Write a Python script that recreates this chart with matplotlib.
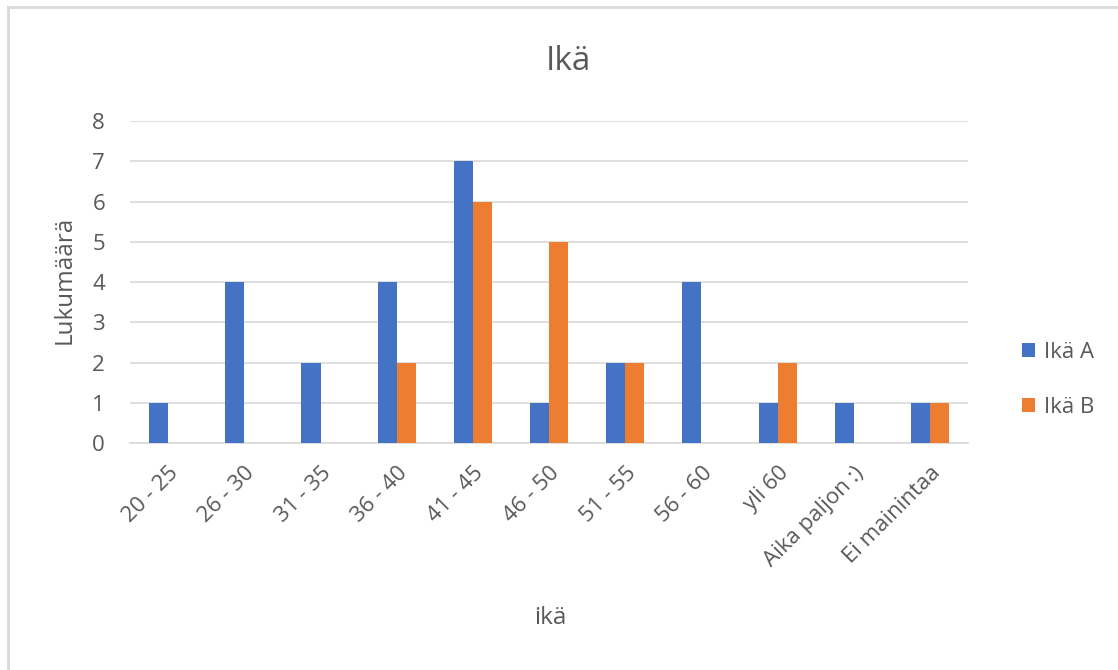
import numpy as np
import matplotlib
matplotlib.use('Agg')
import matplotlib.pyplot as plt
from matplotlib.lines import Line2D

plt.rcParams['font.family'] = ['Open Sans', 'DejaVu Sans']

categories = ['20 - 25', '26 - 30', '31 - 35', '36 - 40', '41 - 45', '46 - 50',
              '51 - 55', '56 - 60', 'yli 60', 'Aika paljon :)', 'Ei mainintaa']
ika_a = [1, 4, 2, 4, 7, 1, 2, 4, 1, 1, 1]
ika_b = [0, 0, 0, 2, 6, 5, 2, 0, 2, 0, 1]
series_names = ['Ikä A', 'Ikä B']

blue = '#4472C4'
orange = '#ED7D31'
grey = '#595959'

fig = plt.figure(figsize=(11.18, 6.70), dpi=100)
ax = fig.add_axes([0.1163, 0.3388, 0.7497, 0.4806])

x = np.arange(len(categories))
w = 0.25
ax.bar(x - w/2, ika_a, w, color=blue, label=series_names[0], zorder=3)
ax.bar(x + w/2, ika_b, w, color=orange, label=series_names[1], zorder=3)

ax.set_xlim(-0.5, len(categories) - 0.5)
ax.set_ylim(0, 8)
ax.set_yticks(range(0, 9))
ax.yaxis.grid(True, color='#D9D9D9', linewidth=1.2, zorder=0)
ax.set_axisbelow(True)
for s in ['top', 'right', 'left']:
    ax.spines[s].set_visible(False)
ax.spines['bottom'].set_color('#D9D9D9')
ax.spines['bottom'].set_linewidth(1.2)
ax.tick_params(axis='both', length=0, colors=grey, labelsize=16)
ax.tick_params(axis='y', pad=18)
ax.set_xticks(x)
ax.set_xticklabels(categories, rotation=45, ha='right', rotation_mode='anchor')
ax.tick_params(axis='x', pad=14)

fig.text(0.508, 1 - 62/670, 'Ikä', fontsize=24, color=grey, ha='center', va='center')
fig.text(65/1118, 1 - 280/670, 'Lukumäärä', fontsize=17.5, color=grey,
         rotation=90, ha='center', va='center')
fig.text(550/1118, 1 - 618/670, 'ikä', fontsize=17.5, color=grey,
         ha='center', va='center')

ax.legend(loc='center left', bbox_to_anchor=(1.04, 0.196), frameon=False,
          fontsize=16, labelcolor=grey, handlelength=0.6, handleheight=0.6,
          handletextpad=0.4, labelspacing=1.5)

# outer chart border (left and top visible)
fig.add_artist(Line2D([0.0075, 0.0075], [0, 0.9895], transform=fig.transFigure,
                      color='#D9D9D9', linewidth=2))
fig.add_artist(Line2D([0.0075, 1.0], [0.9895, 0.9895], transform=fig.transFigure,
                      color='#D9D9D9', linewidth=2))

fig.savefig('out.png', dpi=100)
